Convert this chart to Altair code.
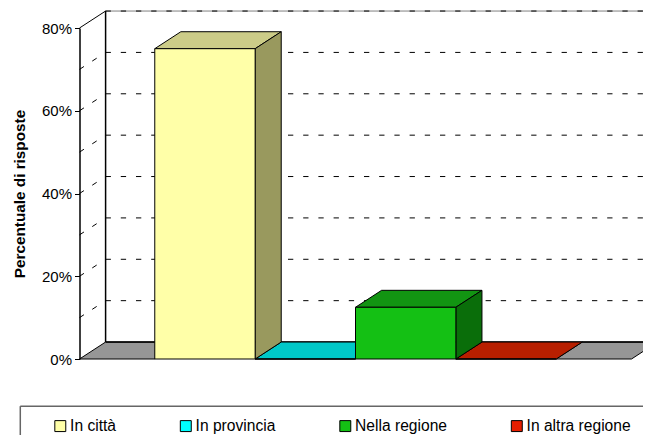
import altair as alt
import pandas as pd

categories = ["In città", "In provincia", "Nella regione", "In altra regione"]
values = [75.0, 0.0, 12.5, 0.0]
front = ["#FFFFA8", "#00FFFF", "#14C014", "#E61E00"]
top = ["#CCCC88", "#00C8C8", "#129412", "#B81F00"]
side = ["#99995E", "#00A0A0", "#0A6E0A", "#901800"]
ticks = [0, 20, 40, 60, 80]
grid = [10, 20, 30, 40, 50, 60, 70, 80]

DX, DY = 0.26, 4.1
XMIN, XMAX = -0.75, 4.75
X = alt.Scale(domain=[XMIN, XMAX], range=[0, 552])
Y = alt.Scale(domain=[0, 80], range=[331, 0])
YAXIS = alt.Axis(values=ticks, labelExpr="datum.value + '%'", title="Percentuale di risposte",
    titleFontSize=15.3, titleFontWeight="bold", titleFont="Liberation Sans", titleColor="black", titlePadding=14,
    labelFont="Liberation Sans", labelFontSize=15, labelColor="black", labelPadding=3,
    domainColor="black", domainWidth=1.5, tickColor="black", tickSize=5, grid=False)

def xq(f):
    return alt.X(f, scale=X, axis=None)

def yq(f):
    return alt.Y(f, scale=Y, axis=YAXIS)

bars = pd.DataFrame({"c": categories, "x": range(4), "x2": range(1, 5), "y": values, "y0": [0.0]*4})

def parallelogram(x0, x1, v, col, id_):
    return [dict(id=id_, col=col, y=v, x=x0, x2=x1), dict(id=id_, col=col, y=v+DY, x=x0+DX, x2=x1+DX)]

floor_rows = parallelogram(XMIN, 0, 0, "#969696", "a") + parallelogram(4, XMAX, 0, "#969696", "b")
top_rows, side_rows = [], []
for i, v in enumerate(values):
    top_rows += parallelogram(i, i+1, v, top[i], f"t{i}")
    if v > 0:
        side_rows += [dict(id=f"s{i}", col=side[i], x=i+1, y=0, y2=v), dict(id=f"s{i}", col=side[i], x=i+1+DX, y=DY, y2=v+DY)]

def hface(rows):
    return alt.Chart(pd.DataFrame(rows)).mark_area(orient="horizontal", stroke="black", strokeWidth=1).encode(
        y=yq("y:Q"), x=xq("x:Q"), x2="x2:Q",
        fill=alt.Fill("col:N", scale=None), detail="id:N")

side_l = alt.Chart(pd.DataFrame(side_rows)).mark_area(orient="vertical", stroke="black", strokeWidth=1).encode(
    x=xq("x:Q"), y=yq("y:Q"), y2="y2:Q",
    fill=alt.Fill("col:N", scale=None), detail="id:N")

DASH = [5.3, 9.9]
gdf = pd.DataFrame({"v": grid, "y": [g+DY for g in grid]})
gdf["xs"] = XMIN + DX
gdf["xe"] = XMAX + 0.2
wall_grid = alt.Chart(gdf).mark_rule(color="black", strokeWidth=1, strokeDash=DASH).encode(
    x=xq("xs:Q"), x2="xe:Q", y=yq("y:Q"))
top_line = alt.Chart(gdf[gdf.v == 80]).mark_rule(color="#808080", strokeWidth=1).encode(
    x=xq("xs:Q"), x2="xe:Q", y=yq("y:Q"))
gdf2 = pd.DataFrame({"v": grid})
gdf2["x"] = XMIN
gdf2["x2"] = XMIN + DX
gdf2["ye"] = gdf2.v + DY
conn = alt.Chart(gdf2[gdf2.v < 80]).mark_rule(color="black", strokeWidth=1, strokeDash=DASH).encode(
    x=xq("x:Q"), x2="x2:Q", y=yq("v:Q"), y2="ye:Q")
conn80 = alt.Chart(gdf2[gdf2.v == 80]).mark_rule(color="black", strokeWidth=1).encode(
    x=xq("x:Q"), x2="x2:Q", y=yq("v:Q"), y2="ye:Q")

frame = pd.DataFrame({"x": [XMIN+DX], "y": [DY], "y2": [80+DY], "xb": [XMAX+0.2]})
wall_v = alt.Chart(frame).mark_rule(color="black", strokeWidth=1.5).encode(
    x=xq("x:Q"), y=yq("y:Q"), y2="y2:Q")
wall_b = alt.Chart(frame).mark_rule(color="black", strokeWidth=1.5).encode(
    x=xq("x:Q"), x2="xb:Q", y=yq("y:Q"))

fronts = alt.Chart(bars).mark_rect(stroke="black", strokeWidth=1).encode(
    x=xq("x:Q"), x2="x2:Q",
    y=yq("y:Q"), y2="y0:Q",
    fill=alt.Fill("c:N", scale=alt.Scale(domain=categories, range=front), sort=categories,
        legend=alt.Legend(title=None, orient="none", legendX=-27, legendY=390, columns=4, gridAlign="each", columnPadding=61.5,
            symbolType="square", symbolSize=120, symbolStrokeColor="black", symbolStrokeWidth=1, labelFont="Liberation Sans",
            labelFontSize=15.6, labelColor="black", labelOffset=2, labelLimit=200, direction="horizontal")))

lframe = pd.DataFrame({"x": [XMIN - 0.59], "x2": [XMAX + 0.2], "y": [-11.4], "y2": [-20.0]})
legend_line = alt.Chart(lframe).mark_rule(color="#666666", strokeWidth=1.5).encode(
    x=xq("x:Q"), x2="x2:Q", y=yq("y:Q"))
legend_edge = alt.Chart(lframe).mark_rule(color="#666666", strokeWidth=1.5).encode(
    x=xq("x:Q"), y=yq("y:Q"), y2="y2:Q")

chart = alt.layer(hface(floor_rows), top_line, wall_grid, conn, conn80, wall_v, wall_b, hface(top_rows), side_l, fronts, legend_line, legend_edge).resolve_scale(
    fill="independent"
).properties(width=552, height=331, background="white", padding={"left": 71.5, "top": 20, "right": 11.5, "bottom": 76},
    autosize=alt.AutoSizeParams(type="none")).configure_view(stroke=None)
chart.save("out.html", embed_options={"renderer": "svg", "actions": False})
